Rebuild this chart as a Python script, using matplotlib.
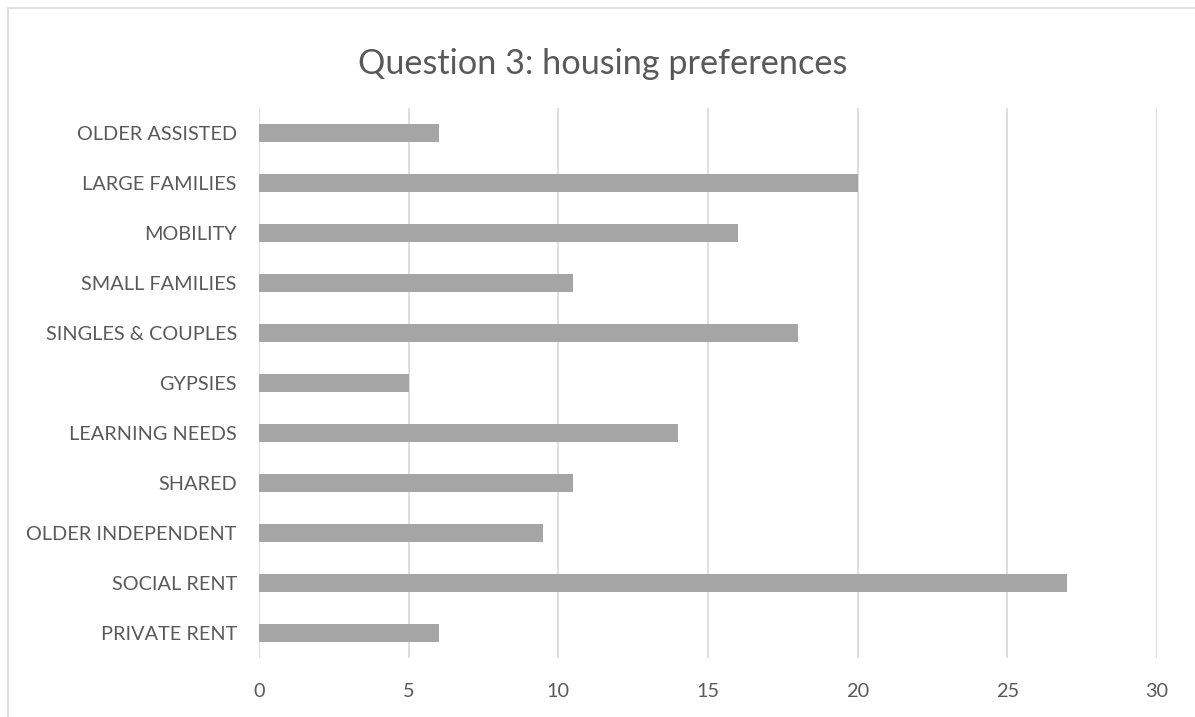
import matplotlib
matplotlib.use("Agg")
import matplotlib.pyplot as plt
from matplotlib.patches import Rectangle

categories = ["OLDER ASSISTED", "LARGE FAMILIES", "MOBILITY", "SMALL FAMILIES",
              "SINGLES & COUPLES", "GYPSIES", "LEARNING NEEDS", "SHARED",
              "OLDER INDEPENDENT", "SOCIAL RENT", "PRIVATE RENT"]
values = [6, 20, 16, 10.5, 18, 5, 14, 10.5, 9.5, 27, 6]
xticks = [0, 5, 10, 15, 20, 25, 30]

plt.rcParams['font.family'] = ['Lato', 'DejaVu Sans']
txt = '#595959'

fig = plt.figure(figsize=(11.95, 7.17), dpi=100)
fig.patches.append(Rectangle((8/1195, -0.1), 1.2, 1 - 8/717 + 0.1,
                             transform=fig.transFigure, fill=False,
                             edgecolor='#D9D9D9', linewidth=1.2))

ax = fig.add_axes([259/1195, 1 - 658/717, (1157 - 259)/1195, 550/717])
pos = list(range(len(categories)))
ax.barh(pos, values, height=0.35, color='#A5A5A5', zorder=3)
ax.set_ylim(len(categories) - 0.5, -0.5)
ax.set_xlim(0, 30)
ax.set_xticks(xticks)
ax.set_yticks(pos)
ax.set_yticklabels(categories)
ax.grid(axis='x', color='#D9D9D9', linewidth=1.2, zorder=0)
for s in ax.spines.values():
    s.set_visible(False)
ax.tick_params(length=0, labelsize=14.3, labelcolor=txt)
ax.tick_params(axis='x', pad=18)
ax.tick_params(axis='y', pad=16)

fig.text(603/1195, 1 - 64/717, "Question 3: housing preferences",
         ha='center', va='center', fontsize=24.7, color=txt)

fig.savefig("out.png", dpi=100)
